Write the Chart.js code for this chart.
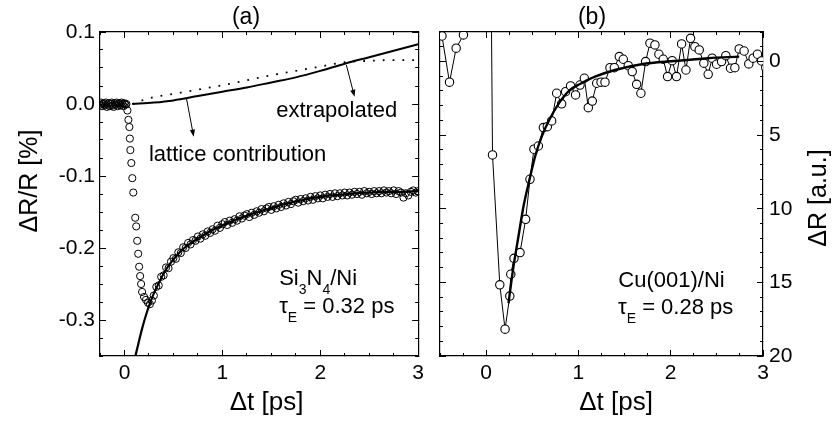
<!DOCTYPE html>
<html>
<head>
<meta charset="utf-8">
<script src="https://cdn.jsdelivr.net/npm/chart.js@4.4.1/dist/chart.umd.min.js"></script>
<style>
  html, body { margin: 0; padding: 0; background: #fff; }
  canvas { position: absolute; top: 0; }
  #panelA { left: 0; }
  #panelB { left: 432px; }
</style>
</head>
<body>
<canvas id="panelA" width="432" height="425"></canvas>
<canvas id="panelB" width="402" height="425"></canvas>
<script>
// --- Panel (a): Si3N4/Ni, dR/R in % ---

// measured points: flat part, the drop, then the recovery
const aDataT = [
  -0.25, -0.24, -0.23, -0.22, -0.21, -0.20, -0.19, -0.18, -0.17, -0.16, -0.15, -0.14, -0.13, -0.12,
  -0.11, -0.10, -0.09, -0.08, -0.07, -0.06, -0.05, -0.04, -0.03, -0.02, -0.01, 0.00, 0.01, 0.02,
  0.03, 0.04, 0.05, 0.055, 0.06, 0.07, 0.08, 0.09, 0.11, 0.12, 0.13, 0.14, 0.15, 0.16, 0.17, 0.18,
  0.20, 0.22, 0.24, 0.26, 0.28,
  0.300, 0.325, 0.350, 0.375, 0.400, 0.425, 0.450, 0.475, 0.500, 0.525, 0.550, 0.575, 0.600, 0.625,
  0.650, 0.675, 0.700, 0.725, 0.750, 0.775, 0.800, 0.825, 0.850, 0.875, 0.900, 0.925, 0.950, 0.975,
  1.000, 1.025, 1.050, 1.075, 1.100, 1.125, 1.150, 1.175, 1.200, 1.225, 1.250, 1.275, 1.300, 1.325,
  1.350, 1.375, 1.400, 1.425, 1.450, 1.475, 1.500, 1.525, 1.550, 1.575, 1.600, 1.625, 1.650, 1.675,
  1.700, 1.725, 1.750, 1.775, 1.800, 1.825, 1.850, 1.875, 1.900, 1.925, 1.950, 1.975, 2.000, 2.025,
  2.050, 2.075, 2.100, 2.125, 2.150, 2.175, 2.200, 2.225, 2.250, 2.275, 2.300, 2.325, 2.350, 2.375,
  2.400, 2.425, 2.450, 2.475, 2.500, 2.525, 2.550, 2.575, 2.600, 2.625, 2.650, 2.675, 2.700, 2.725,
  2.750, 2.775, 2.800, 2.825, 2.850, 2.875, 2.900, 2.925, 2.950, 2.975, 3.000
];
const aDataR = [
  -0.001, 0.002, -0.003, 0.000, 0.001, -0.002, 0.002, -0.004, -0.001, 0.001, -0.003, 0.000, 0.002, -0.002,
  -0.004, 0.001, -0.001, 0.002, -0.003, 0.000, 0.001, -0.002, 0.002, 0.000, -0.003, 0.001, -0.001, 0.000,
  -0.009, -0.022, -0.032, -0.048, -0.064, -0.082, -0.103, -0.123, -0.158, -0.170, -0.190, -0.208, -0.226, -0.239,
  -0.250, -0.261, -0.268, -0.272, -0.276, -0.278, -0.273,
  -0.266, -0.254, -0.252, -0.240, -0.238, -0.227, -0.228, -0.219, -0.214, -0.215,
  -0.206, -0.207, -0.199, -0.200, -0.193, -0.195, -0.189, -0.190, -0.184, -0.187,
  -0.181, -0.183, -0.177, -0.179, -0.174, -0.176, -0.169, -0.172, -0.167, -0.164,
  -0.168, -0.162, -0.165, -0.160, -0.162, -0.156, -0.159, -0.155, -0.153, -0.157,
  -0.151, -0.154, -0.149, -0.151, -0.146, -0.149, -0.145, -0.143, -0.147, -0.142,
  -0.145, -0.140, -0.143, -0.138, -0.141, -0.136, -0.139, -0.135, -0.133, -0.137,
  -0.132, -0.135, -0.131, -0.134, -0.129, -0.133, -0.128, -0.131, -0.127, -0.131,
  -0.126, -0.129, -0.125, -0.129, -0.124, -0.128, -0.124, -0.127, -0.123, -0.127,
  -0.123, -0.126, -0.122, -0.125, -0.122, -0.126, -0.121, -0.124, -0.122, -0.125,
  -0.121, -0.124, -0.121, -0.124, -0.120, -0.123, -0.121, -0.124, -0.120, -0.125,
  -0.121, -0.123, -0.130, -0.124, -0.127, -0.122, -0.120, -0.123, -0.121
];

// fitted electron relaxation
const aFitT = [0.11, 0.14, 0.18, 0.22, 0.26, 0.30, 0.35, 0.41, 0.47, 0.53, 0.61, 0.70, 0.81, 0.90, 1.01, 1.10,
  1.21, 1.30, 1.41, 1.50, 1.61, 1.70, 1.80, 1.90, 2.00, 2.10, 2.20, 2.35, 2.50, 2.65, 2.80, 3.00];
const aFitR = [-0.351, -0.334, -0.312, -0.293, -0.277, -0.263, -0.249, -0.233, -0.221, -0.211, -0.200, -0.191,
  -0.182, -0.175, -0.168, -0.163, -0.157, -0.153, -0.148, -0.145, -0.140, -0.137, -0.134, -0.131, -0.129,
  -0.127, -0.126, -0.124, -0.123, -0.122, -0.122, -0.121];

// lattice contribution (solid) and its extrapolation (dotted)
const aLatT = [0.08, 0.30, 0.50, 0.75, 1.00, 1.25, 1.50, 1.75, 2.00, 2.25, 2.50, 2.75, 3.00];
const aLatR = [0.000, 0.002, 0.005, 0.011, 0.017, 0.023, 0.030, 0.037, 0.046, 0.056, 0.065, 0.074, 0.083];
const aExtT = [0.08, 0.25, 0.50, 0.75, 1.00, 1.25, 1.50, 1.75, 2.00, 2.25, 2.50, 2.75, 3.00];
const aExtR = [0.000, 0.008, 0.014, 0.020, 0.026, 0.033, 0.040, 0.046, 0.052, 0.058, 0.060, 0.061, 0.061];

const aXTicks = [0, 1, 2, 3];
const aYTicks = [-0.3, -0.2, -0.1, 0, 0.1];

// --- Panel (b): Cu(001)/Ni, dR in a.u. ---
const bDataT = [-0.56, -0.479, -0.397, -0.325, -0.246, -0.20, -0.15, -0.10, -0.05, 0.01,
  0.069, 0.148, 0.205, 0.256, 0.267, 0.302, 0.367, 0.428, 0.475, 0.518, 0.566, 0.620, 0.663, 0.710,
  0.764, 0.818, 0.861, 0.915, 0.969, 1.017, 1.064, 1.107, 1.150, 1.198, 1.245, 1.288, 1.342, 1.389,
  1.443, 1.486, 1.540, 1.583, 1.631, 1.677, 1.728, 1.775, 1.829, 1.872, 1.919, 1.966, 2.016, 2.063,
  2.118, 2.165, 2.215, 2.262, 2.309, 2.359, 2.406, 2.449, 2.497, 2.551, 2.597, 2.648, 2.695, 2.742,
  2.795, 2.846, 2.893, 2.940, 2.984, 3.030];
const bDataR = [-4.0, -1.73, 1.41, -0.90, -1.80, -4.0, -9.0, -16.0, -25.0, -40.0,
  6.35, 15.17, 18.18, 15.93, 14.45, 13.37, 12.98, 10.72, 8.00, 5.96, 5.74, 4.49, 4.43, 4.04,
  2.16, 2.88, 2.05, 1.66, 2.27, 1.60, 1.14, 3.14, 2.69, 1.48, 1.41, 1.41, 0.42, 0.42,
  -0.33, -0.15, 0.29, 0.69, 1.55, 2.16, 0.01, -1.24, -1.12, -0.49, -0.15, 1.03, -0.05, 1.03,
  -1.19, 0.58, -1.57, -1.00, -0.78, 0.12, 0.87, -0.22, 0.19, 0.01, -0.39, 0.46, 0.42, -0.85,
  -0.71, 0.17, -0.22, -0.49, -0.03, 0.42];
const bFitT = [0.242, 0.296, 0.350, 0.404, 0.469, 0.530, 0.602, 0.693, 0.801, 0.909, 1.017, 1.180,
  1.396, 1.685, 2.045, 2.406, 2.742];
const bFitR = [16.42, 13.93, 11.89, 9.86, 8.04, 6.46, 5.10, 3.86, 2.73, 1.93, 1.53, 1.03,
  0.58, 0.19, -0.03, -0.22, -0.33];

const bXTicks = [0, 1, 2, 3];
const bYTicks = [0, 5, 10, 15, 20];

// --- helpers ---
const FONT = "'Liberation Sans', Arial, sans-serif";
Chart.defaults.font.family = FONT;
Chart.defaults.color = '#000';

function pts(xs, ys) {
  return xs.map((x, i) => ({ x: x, y: ys[i] }));
}

// tick values come back with float noise, so compare loosely
function isLabelled(labels, v) {
  return !!labels && labels.some(l => Math.abs(l - v) < 1e-7);
}

// one side of the frame; ticks point inward, only some get a label
function frameAxis(position, min, max, step, size, labels, fmt, reverse) {
  return {
    type: 'linear',
    position: position,
    min: min,
    max: max,
    reverse: !!reverse,
    afterFit: (s) => {
      if (s.isHorizontal()) s.height = size; else s.width = size;
    },
    border: { display: true, color: '#000', width: 1.2 },
    grid: { drawOnChartArea: false, drawTicks: true, tickLength: -3, tickColor: '#000', tickWidth: 1 },
    ticks: {
      display: !!labels,
      stepSize: step,
      maxTicksLimit: 200,
      autoSkip: false,
      maxRotation: 0,
      minRotation: 0,
      padding: position === 'right' ? 9 : 8,
      color: '#000',
      font: { size: 21 },
      callback: (v) => isLabelled(labels, v) ? fmt(v) : ''
    }
  };
}

function align(p) {
  return Math.round(p - 0.5) + 0.5;
}

// longer major ticks, titles, arrows and in-plot notes
function decor(spec) {
  return {
    id: 'decor',
    afterDraw(chart) {
      const ctx = chart.ctx;
      const area = chart.chartArea;
      const sx = chart.scales.x;
      const sy = chart.scales.y;
      ctx.save();
      ctx.strokeStyle = '#000';
      ctx.fillStyle = '#000';
      ctx.lineWidth = 1;

      ctx.beginPath();
      spec.xMajor.forEach(v => {
        const p = align(sx.getPixelForValue(v));
        ctx.moveTo(p, area.bottom); ctx.lineTo(p, area.bottom - 6);
        ctx.moveTo(p, area.top); ctx.lineTo(p, area.top + 6);
      });
      spec.yMajor.forEach(v => {
        const p = align(sy.getPixelForValue(v));
        ctx.moveTo(area.left, p); ctx.lineTo(area.left + 6, p);
        ctx.moveTo(area.right, p); ctx.lineTo(area.right - 6, p);
      });
      ctx.stroke();

      spec.arrows.forEach(a => {
        const x1 = sx.getPixelForValue(a[0]), y1 = sy.getPixelForValue(a[1]);
        const x2 = sx.getPixelForValue(a[2]), y2 = sy.getPixelForValue(a[3]);
        const ang = Math.atan2(y2 - y1, x2 - x1);
        const c = Math.cos(ang), s = Math.sin(ang);
        ctx.beginPath();
        ctx.moveTo(x1, y1);
        ctx.lineTo(x2 - 5 * c, y2 - 5 * s);
        ctx.stroke();
        ctx.beginPath();
        ctx.moveTo(x2, y2);
        ctx.lineTo(x2 - 7 * c + 2.6 * s, y2 - 7 * s - 2.6 * c);
        ctx.lineTo(x2 - 7 * c - 2.6 * s, y2 - 7 * s + 2.6 * c);
        ctx.closePath();
        ctx.fill();
      });

      ctx.textBaseline = 'alphabetic';
      ctx.textAlign = 'left';
      spec.notes.forEach(n => {
        let x = sx.getPixelForValue(n.t);
        const y = sy.getPixelForValue(n.v);
        n.parts.forEach(([txt, sub]) => {
          ctx.font = (sub ? 14 : 22) + 'px ' + FONT;
          ctx.fillText(txt, x, y + (sub ? 9 : 0));
          x += ctx.measureText(txt).width;
        });
      });

      spec.titles.forEach(t => {
        ctx.save();
        ctx.translate(t.x, t.y);
        if (t.rot) ctx.rotate(t.rot);
        ctx.font = t.size + 'px ' + FONT;
        ctx.textAlign = 'center';
        ctx.textBaseline = 'middle';
        ctx.fillText(t.text, 0, 0);
        ctx.restore();
      });
      ctx.restore();
    }
  };
}

const baseOptions = {
  responsive: false,
  devicePixelRatio: 1,
  animation: false,
  events: [],
  layout: { padding: 0 },
  plugins: { legend: { display: false }, tooltip: { enabled: false }, title: { display: false } }
};

// --- panel (a) ---
new Chart(document.getElementById('panelA'), {
  type: 'scatter',
  data: {
    datasets: [
      { label: 'fit', data: pts(aFitT, aFitR), showLine: true, borderColor: '#000', borderWidth: 2.2,
        pointRadius: 0, cubicInterpolationMode: 'monotone', clip: 0 },
      { label: 'lattice contribution', data: pts(aLatT, aLatR), showLine: true, borderColor: '#000',
        borderWidth: 2, pointRadius: 0, cubicInterpolationMode: 'monotone', clip: 0 },
      { label: 'extrapolated', data: pts(aExtT, aExtR), showLine: true, borderColor: '#000',
        borderWidth: 1.8, borderDash: [1.8, 8], pointRadius: 0, cubicInterpolationMode: 'monotone', clip: 0 },
      { label: 'Si3N4/Ni', data: pts(aDataT, aDataR), showLine: false, pointStyle: 'circle', pointRadius: 3.6,
        pointBorderWidth: 1, pointBorderColor: '#000', pointBackgroundColor: 'rgba(0,0,0,0)', clip: 0 }
    ]
  },
  options: Object.assign({}, baseOptions, {
    scales: {
      x: frameAxis('bottom', -0.25, 3, 0.25, 69, aXTicks, v => String(v)),
      x2: frameAxis('top', -0.25, 3, 0.25, 32, null),
      y: frameAxis('left', -0.35, 0.1, 0.025, 100, aYTicks, v => v.toFixed(1)),
      y2: frameAxis('right', -0.35, 0.1, 0.025, 7.5, null)
    }
  }),
  plugins: [decor({
    xMajor: aXTicks,
    yMajor: aYTicks,
    arrows: [[0.633, 0.008, 0.707, -0.0454], [2.267, 0.054, 2.35, 0.010]],
    notes: [
      { t: 0.25, v: -0.0788, parts: [['lattice contribution', 0]] },
      { t: 1.55, v: -0.0185, parts: [['extrapolated', 0]] },
      { t: 1.58, v: -0.2514, parts: [['Si', 0], ['3', 1], ['N', 0], ['4', 1], ['/Ni', 0]] },
      { t: 1.58, v: -0.290, parts: [['τ', 0], ['E', 1], [' = 0.32 ps', 0]] }
    ],
    titles: [
      { text: '(a)', x: 246, y: 18, size: 23 },
      { text: 'ΔR/R [%]', x: 30, y: 181, size: 25, rot: -Math.PI / 2 },
      { text: 'Δt [ps]', x: 266.5, y: 403, size: 26 }
    ]
  })]
});

// --- panel (b) ---
new Chart(document.getElementById('panelB'), {
  type: 'scatter',
  data: {
    datasets: [
      { label: 'fit', data: pts(bFitT, bFitR), showLine: true, borderColor: '#000', borderWidth: 2.4,
        pointRadius: 0, cubicInterpolationMode: 'monotone', clip: 0 },
      { label: 'Cu(001)/Ni', data: pts(bDataT, bDataR), showLine: true, borderColor: '#000', borderWidth: 1,
        pointStyle: 'circle', pointRadius: 4.2, pointBorderWidth: 1.1, pointBorderColor: '#000',
        pointBackgroundColor: '#fff', clip: 0 }
    ]
  },
  options: Object.assign({}, baseOptions, {
    scales: {
      x: frameAxis('bottom', -0.5, 3, 0.25, 69, bXTicks, v => String(v)),
      x2: frameAxis('top', -0.5, 3, 0.25, 32, null),
      y: frameAxis('right', -2, 20, 1, 71, bYTicks, v => String(v), true),
      y2: frameAxis('left', -2, 20, 1, 7, null, null, true)
    }
  }),
  plugins: [decor({
    xMajor: bXTicks,
    yMajor: bYTicks,
    arrows: [],
    notes: [
      { t: 1.432, v: 15.33, parts: [['Cu(001)/Ni', 0]] },
      { t: 1.429, v: 17.14, parts: [['τ', 0], ['E', 1], [' = 0.28 ps', 0]] }
    ],
    titles: [
      { text: '(b)', x: 160, y: 18, size: 23 },
      { text: 'ΔR [a.u.]', x: 387, y: 198, size: 25, rot: -Math.PI / 2 },
      { text: 'Δt [ps]', x: 184, y: 403, size: 26 }
    ]
  })]
});
</script>
</body>
</html>
